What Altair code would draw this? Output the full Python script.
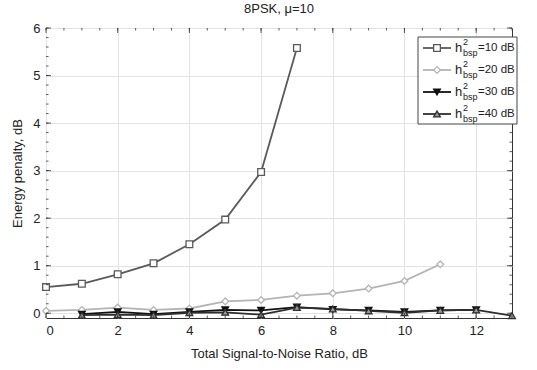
import altair as alt
import pandas as pd

# ---- data ----
snr_10 = [0, 1, 2, 3, 4, 5, 6, 7]
pen_10 = [0.55, 0.62, 0.82, 1.05, 1.45, 1.97, 2.97, 5.58]

snr_20 = [0, 1, 2, 3, 4, 5, 6, 7, 8, 9, 10, 11]
pen_20 = [0.05, 0.07, 0.12, 0.07, 0.10, 0.25, 0.28, 0.37, 0.42, 0.52, 0.68, 1.03]

snr_30 = [1, 2, 3, 4, 5, 6, 7, 8, 9, 10, 11, 12]
pen_30 = [-0.02, 0.03, -0.02, 0.03, 0.07, 0.06, 0.13, 0.08, 0.06, 0.03, 0.06, 0.07]

snr_40 = [1, 2, 3, 4, 5, 6, 7, 8, 9, 10, 11, 12, 13]
pen_40 = [-0.04, -0.03, -0.04, 0.01, 0.02, -0.03, 0.12, 0.09, 0.05, 0.01, 0.06, 0.07, -0.05]

series_names = ["10 dB", "20 dB", "30 dB", "40 dB"]
legend_labels = ["=10 dB", "=20 dB", "=30 dB", "=40 dB"]
line_colors = ["#5a5a5a", "#b4b4b4", "#111111", "#2e2e2e"]
fill_colors = ["#ffffff", "#ffffff", "#111111", "#9a9a9a"]
shapes = ["square", "diamond", "triangle-down", "triangle-up"]

x_major = [0, 2, 4, 6, 8, 10, 12]
x_minor = [v / 2 for v in range(0, 27)]
y_major = [0, 1, 2, 3, 4, 5, 6]
y_minor = [round(v * 0.2, 2) for v in range(0, 31)]

TITLE = "8PSK, \u03bc=10"
X_TITLE = "Total Signal-to-Noise Ratio, dB"
Y_TITLE = "Energy penalty, dB"

W, H = 466, 290
FONT = "Liberation Sans"

rows = []
for name, xs, ys in zip(series_names, [snr_10, snr_20, snr_30, snr_40],
                        [pen_10, pen_20, pen_30, pen_40]):
    for a, b in zip(xs, ys):
        rows.append({"snr": a, "pen": b, "series": name})
df = pd.DataFrame(rows)

xscale = alt.Scale(domain=[0, 13], nice=False, zero=False)
yscale = alt.Scale(domain=[-0.1, 6], nice=False, zero=False)
color_scale = alt.Scale(domain=series_names, range=line_colors)
fill_scale = alt.Scale(domain=series_names, range=fill_colors)
shape_scale = alt.Scale(domain=series_names, range=shapes)

base_axes = alt.Chart(df).mark_point(opacity=0).encode(
    x=alt.X("snr:Q", scale=xscale,
            axis=alt.Axis(values=x_major, title=X_TITLE, ticks=False, grid=True,
                          gridColor="#e3e3e3", domain=False, labelPadding=6,
                          titlePadding=10, format="d")),
    y=alt.Y("pen:Q", scale=yscale,
            axis=alt.Axis(values=y_major, title=Y_TITLE, ticks=False, grid=True,
                          gridColor="#e3e3e3", domain=False, labelPadding=6,
                          titlePadding=8, format="d")),
)

lines = alt.Chart(df).mark_line(strokeWidth=1.8).encode(
    x=alt.X("snr:Q", scale=xscale),
    y=alt.Y("pen:Q", scale=yscale),
    color=alt.Color("series:N", scale=color_scale, legend=None),
    detail="series:N",
)

points = alt.Chart(df).mark_point(filled=True, size=45, strokeWidth=1.3, opacity=1).encode(
    x=alt.X("snr:Q", scale=xscale),
    y=alt.Y("pen:Q", scale=yscale),
    shape=alt.Shape("series:N", scale=shape_scale, legend=None),
    fill=alt.Fill("series:N", scale=fill_scale, legend=None),
    stroke=alt.Stroke("series:N", scale=color_scale, legend=None),
)

# ---- inward tick marks on all four sides (MATLAB-style box) ----
def xticks(vals, length):
    d = pd.DataFrame({"v": vals})
    bottom = alt.Chart(d).mark_rule(color="#333", strokeWidth=0.8).encode(
        x=alt.X("v:Q", scale=xscale), y=alt.value(H), y2=alt.value(H - length))
    top = alt.Chart(d).mark_rule(color="#333", strokeWidth=0.8).encode(
        x=alt.X("v:Q", scale=xscale), y=alt.value(0), y2=alt.value(length))
    return [bottom, top]

def yticks(vals, length):
    d = pd.DataFrame({"v": vals})
    left = alt.Chart(d).mark_rule(color="#333", strokeWidth=0.8).encode(
        y=alt.Y("v:Q", scale=yscale), x=alt.value(0), x2=alt.value(length))
    right = alt.Chart(d).mark_rule(color="#333", strokeWidth=0.8).encode(
        y=alt.Y("v:Q", scale=yscale), x=alt.value(W), x2=alt.value(W - length))
    return [left, right]

tick_layers = xticks(x_major, 5) + xticks(x_minor, 2.5) + yticks(y_major, 5) + yticks(y_minor, 2.5)

# ---- custom legend with super/subscripts ----
one = pd.DataFrame({"k": [0]})
leg_layers = [
    alt.Chart(one).mark_rect(fill="white", stroke="#444", strokeWidth=1).encode(
        x=alt.value(372), x2=alt.value(471), y=alt.value(9), y2=alt.value(96))
]
leg_y = [20, 42, 64, 86]
for i, name in enumerate(series_names):
    yy = leg_y[i]
    lab = pd.DataFrame({"label": [legend_labels[i]], "h": ["h"], "sup": ["2"], "sub": ["bsp"]})
    leg_layers.append(alt.Chart(lab).mark_rule(color=line_colors[i], strokeWidth=1.8).encode(
        x=alt.value(377), x2=alt.value(405), y=alt.value(yy)))
    leg_layers.append(alt.Chart(lab).mark_point(
        filled=True, size=45, strokeWidth=1.3, shape=shapes[i], fill=fill_colors[i],
        stroke=line_colors[i], opacity=1).encode(x=alt.value(391), y=alt.value(yy)))
    leg_layers.append(alt.Chart(lab).mark_text(
        font=FONT, fontSize=13, align="left", baseline="middle", color="#222").encode(
        x=alt.value(409), y=alt.value(yy), text="h:N"))
    leg_layers.append(alt.Chart(lab).mark_text(
        font=FONT, fontSize=9, align="left", baseline="middle", color="#222").encode(
        x=alt.value(417), y=alt.value(yy - 6), text="sup:N"))
    leg_layers.append(alt.Chart(lab).mark_text(
        font=FONT, fontSize=9, align="left", baseline="middle", color="#222").encode(
        x=alt.value(417), y=alt.value(yy + 5), text="sub:N"))
    leg_layers.append(alt.Chart(lab).mark_text(
        font=FONT, fontSize=11.5, align="left", baseline="middle", color="#222").encode(
        x=alt.value(432), y=alt.value(yy), text="label:N"))

chart = alt.layer(base_axes, lines, points, *tick_layers, *leg_layers).resolve_scale(
    color="independent", fill="independent", stroke="independent", shape="independent"
).properties(
    width=W, height=H,
    title=alt.TitleParams(TITLE, fontSize=13, font=FONT, fontWeight="normal",
                          color="#222", offset=6),
    autosize=alt.AutoSizeParams(type="none"),
    padding={"left": 46, "top": 28, "right": 25, "bottom": 52},
).configure_view(
    stroke="#333", strokeWidth=1
).configure_axis(
    labelFont=FONT, titleFont=FONT, labelFontSize=13, titleFontSize=13,
    labelColor="#222", titleColor="#222", titleFontWeight="normal"
)

chart.save("out.html", embed_options={"renderer": "svg", "actions": False})
